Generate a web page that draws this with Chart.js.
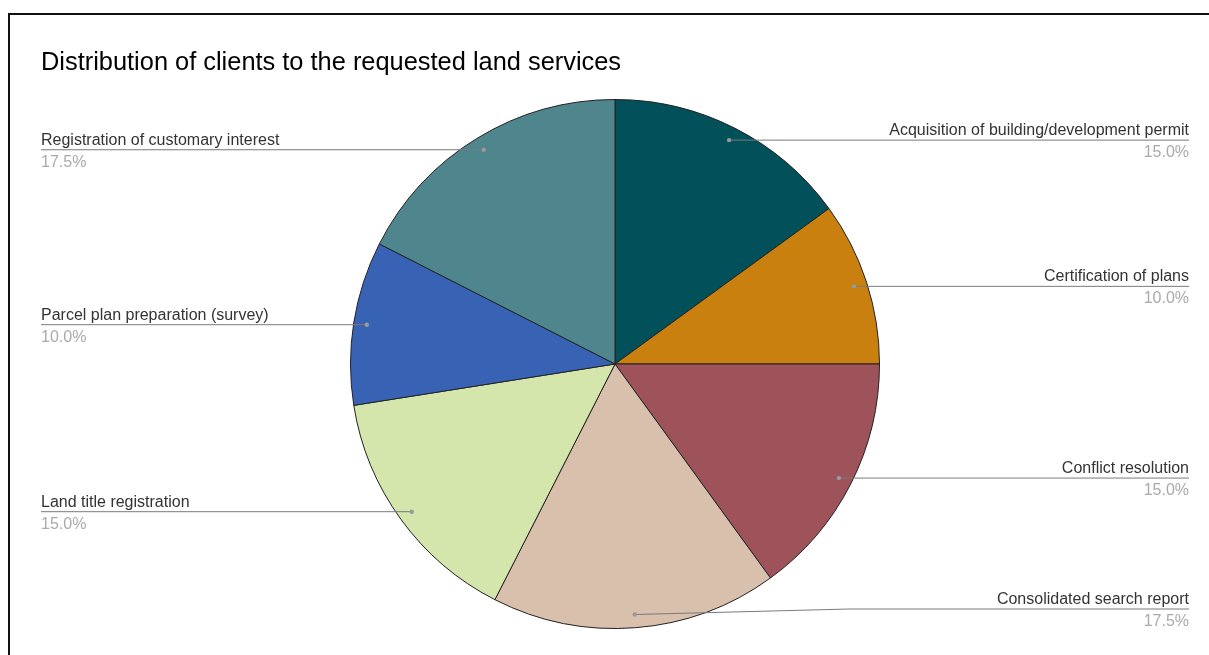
<!DOCTYPE html>
<html>
<head>
<meta charset="utf-8">
<script src="https://cdn.jsdelivr.net/npm/chart.js@4"></script>
<style>
  html, body { margin: 0; padding: 0; background: #fff; overflow: hidden; }
  #wrap { position: relative; width: 1209px; height: 655px; }
  #frame {
    position: absolute; left: 8px; top: 13px; width: 1300px; height: 800px;
    border: 2px solid #111; box-sizing: border-box;
  }
  canvas { position: absolute; left: 0; top: 0; }
</style>
</head>
<body>
<div id="wrap">
  <div id="frame"></div>
  <canvas id="services" width="1209" height="655"></canvas>
</div>
<script>
const services = [
  "Acquisition of building/development permit",
  "Certification of plans",
  "Conflict resolution",
  "Consolidated search report",
  "Land title registration",
  "Parcel plan preparation (survey)",
  "Registration of customary interest",
];
const shares = [15, 10, 15, 17.5, 15, 10, 17.5];
const sliceColors = ["#02505a", "#c9800f", "#9e525a", "#d9c0ad", "#d5e6ac", "#3863b5", "#4f868e"];
const chartTitle = "Distribution of clients to the requested land services";

// labels on both sides with a leader line to a dot inside each slice
const sideLabels = {
  id: "sideLabels",
  afterDatasetsDraw(chart) {
    const ctx = chart.ctx;
    const arcs = chart.getDatasetMeta(0).data;
    const total = shares.reduce((a, b) => a + b, 0);

    ctx.save();
    ctx.font = "25.4px 'Liberation Sans', Arial, sans-serif";
    ctx.fillStyle = "#000";
    ctx.textAlign = "left";
    ctx.textBaseline = "alphabetic";
    ctx.fillText(chartTitle, 41, 70);

    arcs.forEach((arc, i) => {
      const mid = (arc.startAngle + arc.endAngle) / 2;
      const r = arc.outerRadius * 0.95;
      const dx = arc.x + Math.cos(mid) * r;
      const dy = arc.y + Math.sin(mid) * r;
      const right = Math.cos(mid) >= 0;
      const lineY = Math.min(dy, chart.height - 46);
      const edge = right ? 1189 : 41;
      const far = right ? 1189 - 340 : 41 + 340;

      ctx.strokeStyle = "#7a7a7a";
      ctx.lineWidth = 1;
      ctx.beginPath();
      ctx.moveTo(dx, dy);
      if (lineY !== dy) {
        ctx.lineTo(far, lineY);
      }
      ctx.lineTo(edge, lineY);
      ctx.stroke();

      ctx.fillStyle = "#999";
      ctx.beginPath();
      ctx.arc(dx, dy, 2.2, 0, Math.PI * 2);
      ctx.fill();

      ctx.textAlign = right ? "right" : "left";
      ctx.font = "16px 'Liberation Sans', Arial, sans-serif";
      ctx.fillStyle = "#333";
      ctx.fillText(services[i], edge, lineY - 5);
      ctx.fillStyle = "#aaa";
      ctx.fillText((shares[i] / total * 100).toFixed(1) + "%", edge, lineY + 17);
    });
    ctx.restore();
  },
};

const servicesCtx = document.getElementById("services").getContext("2d");
new Chart(servicesCtx, {
  type: "pie",
  data: {
    labels: services,
    datasets: [
      {
        data: shares,
        backgroundColor: sliceColors,
        borderColor: "#222",
        borderWidth: 1,
      },
    ],
  },
  options: {
    responsive: false,
    animation: false,
    layout: {
      padding: { left: 350, right: 329, top: 99, bottom: 26 },
    },
    plugins: {
      legend: { display: false },
      tooltip: { enabled: false },
    },
  },
  plugins: [sideLabels],
});
</script>
</body>
</html>
